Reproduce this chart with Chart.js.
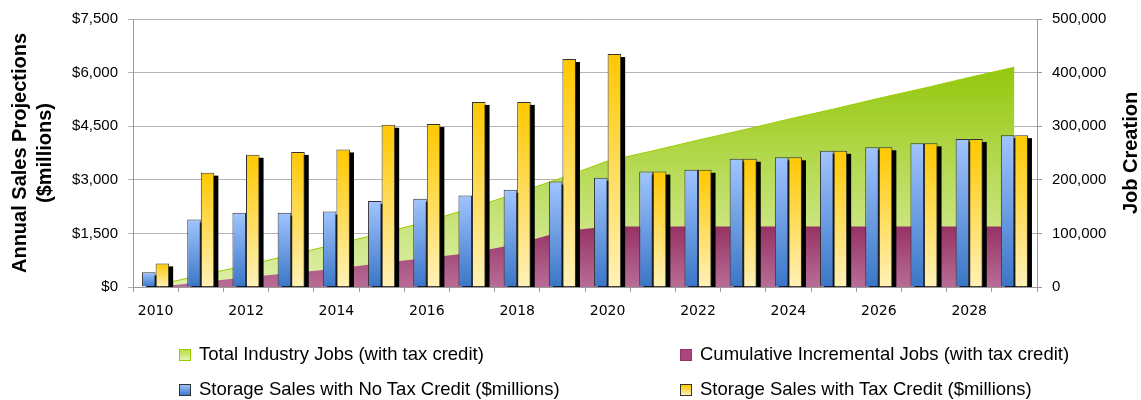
<!DOCTYPE html>
<html>
<head>
<meta charset="utf-8">
<script src="https://cdn.jsdelivr.net/npm/chart.js@4.4.1/dist/chart.umd.min.js"></script>
<style>
  html, body { margin: 0; padding: 0; background: #fff; }
  #wrap { position: relative; width: 1141px; height: 400px; }
  .legend-item {
    position: absolute;
    font: 18.5px "Liberation Sans", Arial, sans-serif;
    color: #000;
    white-space: nowrap;
    line-height: 20px;
  }
  .legend-item span {
    display: inline-block;
    width: 10px;
    height: 10px;
    margin-right: 8px;
    vertical-align: -1px;
  }
</style>
</head>
<body>
<div id="wrap">
  <canvas id="salesChart" width="1141" height="400"></canvas>
</div>
<script>
const years = ['2010', '2011', '2012', '2013', '2014', '2015', '2016', '2017', '2018', '2019',
               '2020', '2021', '2022', '2023', '2024', '2025', '2026', '2027', '2028', '2029'];

// jobs (right axis)
const totalJobs = [3000, 22000, 40000, 60000, 80000, 100000, 122000, 148000, 175000, 204000,
                   235000, 254000, 274000, 293000, 313000, 332000, 352000, 371000, 391000, 410000];
const incrementalJobs = [0, 9000, 18000, 26000, 34000, 45000, 54000, 64000, 80000, 104000,
                         113000, 113000, 113000, 113000, 113000, 113000, 113000, 113000, 113000, 113000];

// sales, $millions (left axis)
const salesNoCredit = [410, 1890, 2080, 2080, 2110, 2410, 2470, 2560, 2720, 2950,
                       3060, 3230, 3280, 3590, 3630, 3810, 3910, 4020, 4140, 4250];
const salesWithCredit = [660, 3200, 3700, 3780, 3850, 4540, 4560, 5180, 5180, 6380,
                         6520, 3230, 3280, 3590, 3630, 3810, 3910, 4020, 4140, 4250];

const salesTicks = { min: 0, max: 7500, step: 1500 };
const jobTicks = { min: 0, max: 500000, step: 100000 };

const tickFont = { family: '"Liberation Sans", Arial, sans-serif', size: 15 };
const titleFont = { family: '"Liberation Sans", Arial, sans-serif', size: 20, weight: 'bold' };

// gradient fill for an area, from its highest value down to zero
function areaGradient(values, top, bottom) {
    return function (context) {
        const chart = context.chart;
        if (!chart.chartArea) return bottom;
        const scale = chart.scales.y1;
        const y0 = scale.getPixelForValue(Math.max(...values));
        const y1 = scale.getPixelForValue(0);
        const g = chart.ctx.createLinearGradient(0, y0, 0, y1);
        g.addColorStop(0, top);
        g.addColorStop(1, bottom);
        return g;
    };
}

// gradient for each bar, top to base
function barGradient(top, bottom) {
    return function (context) {
        const chart = context.chart;
        if (!chart.chartArea || context.raw == null) return top;
        const scale = chart.scales.y;
        const g = chart.ctx.createLinearGradient(0, scale.getPixelForValue(context.raw), 0, scale.getPixelForValue(0));
        g.addColorStop(0, top);
        g.addColorStop(1, bottom);
        return g;
    };
}

// black drop shadow behind the bars, drawn just before the first bar dataset
const barShadow = {
    id: 'barShadow',
    beforeDatasetDraw(chart, args) {
        if (args.index !== 3) return;
        const ctx = chart.ctx;
        const area = chart.chartArea;
        ctx.save();
        ctx.beginPath();
        ctx.rect(area.left, area.top, area.right - area.left, area.bottom - area.top);
        ctx.clip();
        ctx.fillStyle = '#000';
        [2, 3].forEach(i => {
            chart.getDatasetMeta(i).data.forEach(bar => {
                const p = bar.getProps(['x', 'y', 'base', 'width'], true);
                ctx.fillRect(p.x - p.width / 2 + 4, p.y + 3, p.width, p.base - p.y);
            });
        });
        ctx.restore();
    }
};

// right axis title reads bottom to top, like the left one
const rightTitle = {
    id: 'rightTitle',
    afterDraw(chart) {
        const s = chart.scales.y1;
        const ctx = chart.ctx;
        ctx.save();
        ctx.translate(s.right - 10, (s.top + s.bottom) / 2);
        ctx.rotate(-Math.PI / 2);
        ctx.font = 'bold 20px "Liberation Sans", Arial, sans-serif';
        ctx.fillStyle = '#000';
        ctx.textAlign = 'center';
        ctx.textBaseline = 'middle';
        ctx.fillText('Job Creation', 0, 0);
        ctx.restore();
    }
};

const ctx = document.getElementById('salesChart').getContext('2d');
const salesChart = new Chart(ctx, {
    type: 'bar',
    data: {
        labels: years,
        datasets: [{
            type: 'line',
            label: 'Total Industry Jobs (with tax credit)',
            data: totalJobs,
            yAxisID: 'y1',
            fill: 'origin',
            backgroundColor: areaGradient(totalJobs, '#94c70c', '#def0aa'),
            borderColor: '#99cc00',
            borderWidth: 1,
            pointRadius: 0,
            tension: 0,
            order: 2
        }, {
            type: 'line',
            label: 'Cumulative Incremental Jobs (with tax credit)',
            data: incrementalJobs,
            yAxisID: 'y1',
            fill: 'origin',
            backgroundColor: areaGradient(incrementalJobs, '#963264', '#b86d96'),
            borderWidth: 0,
            pointRadius: 0,
            tension: 0,
            order: 1
        }, {
            label: 'Storage Sales with No Tax Credit ($millions)',
            data: salesNoCredit,
            yAxisID: 'y',
            backgroundColor: barGradient('#a0c4ff', '#3a76c6'),
            borderColor: '#333',
            borderWidth: 1,
            barPercentage: 1,
            categoryPercentage: 0.6,
            order: 0
        }, {
            label: 'Storage Sales with Tax Credit ($millions)',
            data: salesWithCredit,
            yAxisID: 'y',
            backgroundColor: barGradient('#ffc800', '#fff1b8'),
            borderColor: '#333',
            borderWidth: 1,
            barPercentage: 1,
            categoryPercentage: 0.6,
            order: 0
        }]
    },
    options: {
        responsive: false,
        animation: false,
        events: [],
        layout: { padding: { top: 18, left: 0, right: 0, bottom: 0 } },
        plugins: {
            legend: { display: false },
            tooltip: { enabled: false }
        },
        scales: {
            x: {
                offset: true,
                grid: { offset: true, drawOnChartArea: false, tickLength: 5, color: '#999' },
                border: { color: '#999' },
                ticks: {
                    autoSkip: false,
                    maxRotation: 0,
                    padding: 11,
                    color: '#000',
                    font: { family: '"DejaVu Sans", sans-serif', size: 14 },
                    callback: (v, i) => i % 2 === 0 ? years[i] : ''
                },
                afterFit: s => { s.height = 113; }
            },
            y: {
                position: 'left',
                min: salesTicks.min,
                max: salesTicks.max,
                grid: { color: '#b4b4b4', tickLength: 5 },
                border: { color: '#999' },
                ticks: {
                    stepSize: salesTicks.step,
                    padding: 10,
                    color: '#000',
                    font: tickFont,
                    callback: v => '$' + v.toLocaleString('en-US')
                },
                title: {
                    display: true,
                    text: ['Annual Sales Projections', '($millions)'],
                    color: '#000',
                    font: { ...titleFont, lineHeight: 1.25 },
                    padding: { top: 8, bottom: 0 }
                },
                afterFit: s => { s.width = 133; }
            },
            y1: {
                position: 'right',
                min: jobTicks.min,
                max: jobTicks.max,
                grid: { drawOnChartArea: false, tickLength: 5, color: '#999' },
                border: { color: '#999' },
                ticks: {
                    stepSize: jobTicks.step,
                    padding: 10,
                    color: '#000',
                    font: tickFont,
                    callback: v => v.toLocaleString('en-US')
                },
                afterFit: s => { s.width = 104; }
            }
        }
    },
    plugins: [barShadow, rightTitle]
});

// legend in two columns under the chart
const legendSwatches = [
    { bg: 'linear-gradient(#b8de4a, #e4f3b4)', border: '#9c0' },
    { bg: '#a8457c', border: '#993366' },
    { bg: 'linear-gradient(#9cc0ff, #3f7bc9)', border: '#333' },
    { bg: 'linear-gradient(#ffc800, #fff0b0)', border: '#333' }
];
const legendSpots = [[179, 344], [680, 344], [179, 379], [680, 379]];

const wrap = document.getElementById('wrap');
salesChart.data.datasets.forEach((ds, i) => {
    const item = document.createElement('div');
    item.className = 'legend-item';
    item.style.left = legendSpots[i][0] + 'px';
    item.style.top = legendSpots[i][1] + 'px';
    const sw = document.createElement('span');
    sw.style.background = legendSwatches[i].bg;
    sw.style.border = '1px solid ' + legendSwatches[i].border;
    item.appendChild(sw);
    item.appendChild(document.createTextNode(ds.label));
    wrap.appendChild(item);
});
</script>
</body>
</html>
